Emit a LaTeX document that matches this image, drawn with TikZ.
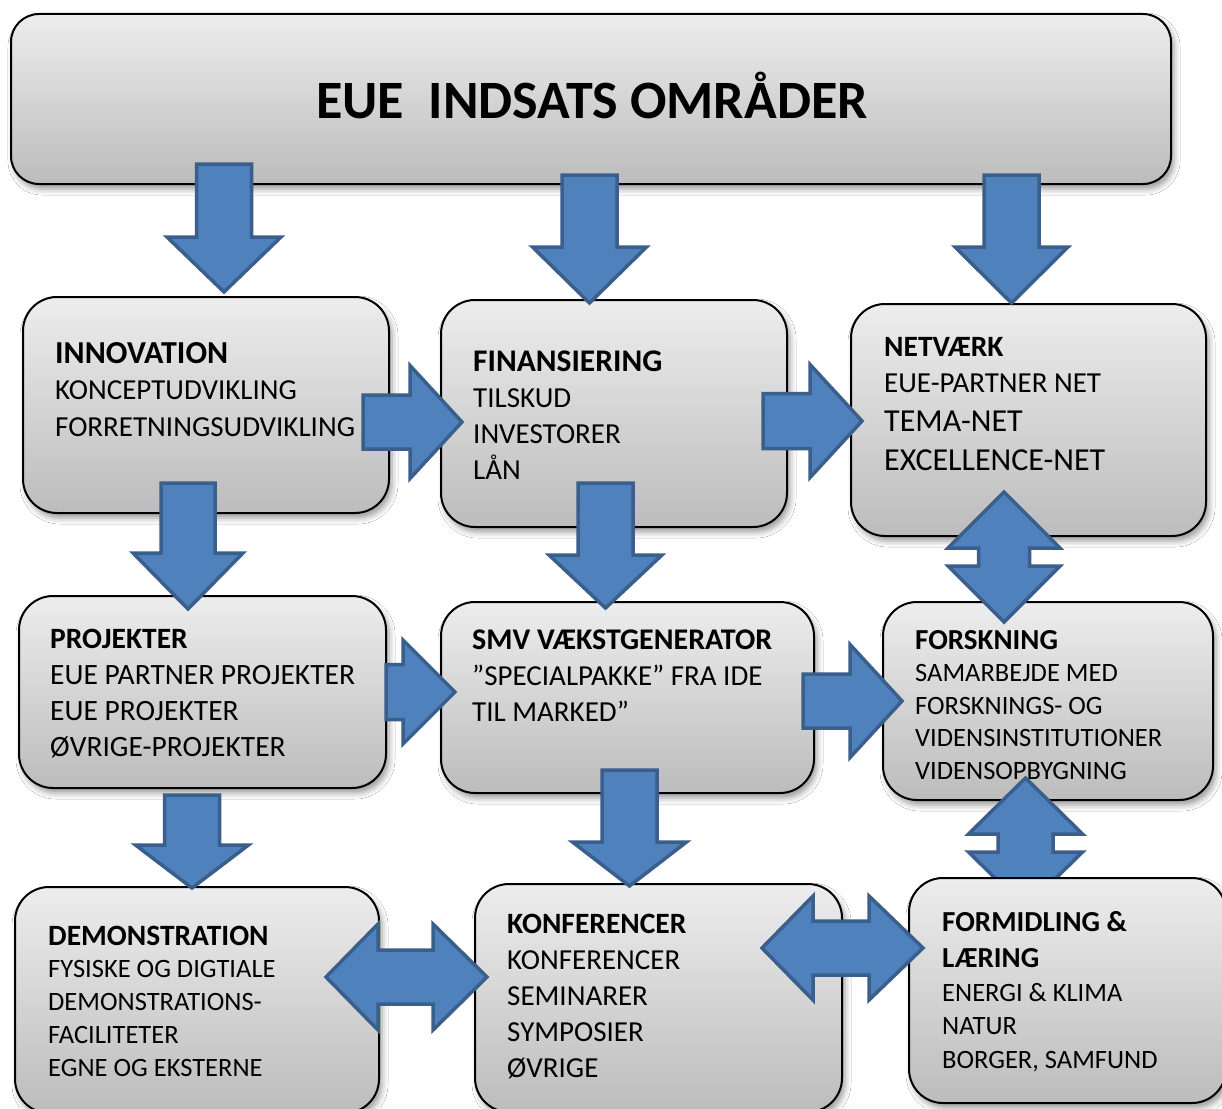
\documentclass[tikz,border=0pt]{standalone}
\usepackage{fontspec}
\setmainfont{Carlito}
\usetikzlibrary{shadows.blur}
\definecolor{boxtop}{HTML}{EDEDED}
\definecolor{boxbot}{HTML}{BCBCBC}
\definecolor{arrfill}{HTML}{4F81BD}
\definecolor{arrline}{HTML}{3A5F8B}
\newcommand\ebx[6][34pt]{\node[ebox=#1, minimum width={(#5-#3)*1pt}, minimum height={(#6-#4)*1pt}] (#2) at (#3,#4) {};}
\newcommand\blkdown[6]{\filldraw[barrow] (#1-#2,#4) -- (#1+#2,#4) -- (#1+#2,#5) -- (#1+#3,#5) -- (#1,#6) -- (#1-#3,#5) -- (#1-#2,#5) -- cycle;}
\newcommand\blkright[6]{\filldraw[barrow] (#4,#1-#2) -- (#5,#1-#2) -- (#5,#1-#3) -- (#6,#1) -- (#5,#1+#3) -- (#5,#1+#2) -- (#4,#1+#2) -- cycle;}
\newcommand\blkvv[7]{\filldraw[barrow] (#1,#4) -- (#1+#3,#5) -- (#1+#2,#5) -- (#1+#2,#6) -- (#1+#3,#6) -- (#1,#7) -- (#1-#3,#6) -- (#1-#2,#6) -- (#1-#2,#5) -- (#1-#3,#5) -- cycle;}
\newcommand\blkhh[7]{\filldraw[barrow] (#4,#1) -- (#5,#1-#3) -- (#5,#1-#2) -- (#6,#1-#2) -- (#6,#1-#3) -- (#7,#1) -- (#6,#1+#3) -- (#6,#1+#2) -- (#5,#1+#2) -- (#5,#1+#3) -- cycle;}
\newcommand\hdr[2]{{\fontsize{#1}{36}\selectfont\bfseries #2}}
\begin{document}
\begin{tikzpicture}[x=1pt,y=-1pt,
  ebox/.style={draw=black, line width=2pt, rounded corners=#1, top color=boxtop, bottom color=boxbot,
    anchor=north west, inner sep=0pt, outer sep=0pt,
    blur shadow={shadow xshift=3pt, shadow yshift=-5pt, shadow blur radius=6pt, shadow opacity=40}},
  barrow/.style={fill=arrfill, draw=arrline, line width=3.5pt, line join=miter},
  txt/.style={anchor=base west, align=left, inner sep=0pt, font=\fontsize{29}{36}\selectfont}]
\useasboundingbox (0,0) rectangle (1222,1108);
\clip (0,0) rectangle (1222,1108);
\fill[white] (0,0) rectangle (1222,1108);
% boxes
\ebx[28pt]{top}{11}{14}{1171}{184}
\ebx{inno}{23}{297}{389}{513}
\ebx{fin}{441}{300}{787}{527}
\ebx{net}{851}{304}{1206}{536}
\ebx{proj}{19}{596}{386}{788}
\ebx{smv}{441}{602}{814}{793}
\ebx{forsk}{883}{602}{1213}{800}
\ebx{demo}{15}{887}{379}{1113}
\ebx{konf}{475}{884}{842}{1112}
% texts (anchored at the baseline of the last line)
\node[anchor=base, inner sep=0pt, font=\fontsize{54}{60}\selectfont\bfseries] (ttop) at (592,118) {EUE\ \ INDSATS OMRÅDER};
\node[txt, font=\fontsize{29}{36.5}\selectfont] (tinno) at (55,436) {\hdr{32}{INNOVATION}\\KONCEPTUDVIKLING\\FORRETNINGSUDVIKLING};
\node[txt] (tfin) at (473,479) {\hdr{31.5}{FINANSIERING}\\TILSKUD\\INVESTORER\\LÅN};
\node[txt] (tnet) at (884,470) {\hdr{29.5}{NETVÆRK}\\EUE-PARTNER NET\\[3pt]{\fontsize{32}{39}\selectfont TEMA-NET}\\[3pt]{\fontsize{32}{39}\selectfont EXCELLENCE-NET}};
\node[txt, font=\fontsize{29.5}{36}\selectfont] (tproj) at (50,756) {\hdr{29.5}{PROJEKTER}\\EUE PARTNER PROJEKTER\\EUE PROJEKTER\\ØVRIGE-PROJEKTER};
\node[txt] (tsmv) at (472,721) {\hdr{30}{SMV VÆKSTGENERATOR}\\”SPECIALPAKKE” FRA IDE\\TIL MARKED”};
\node[txt, font=\fontsize{26.5}{32.5}\selectfont] (tforsk) at (915,779) {\hdr{29}{FORSKNING}\\SAMARBEJDE MED\\FORSKNINGS- OG\\VIDENSINSTITUTIONER\\VIDENSOPBYGNING};
\node[txt, font=\fontsize{26.5}{32.75}\selectfont] (tdemo) at (48,1076) {\hdr{29.5}{DEMONSTRATION}\\FYSISKE OG DIGTIALE\\DEMONSTRATIONS-\\FACILITETER\\EGNE OG EKSTERNE};
\node[txt] (tkonf) at (507,1077) {\hdr{29.5}{KONFERENCER}\\KONFERENCER\\SEMINARER\\SYMPOSIER\\ØVRIGE};
% arrow that lies behind the FORMIDLING box
\blkvv{1025.5}{27.5}{57}{778}{834}{852}{908}
\ebx{form}{909}{878}{1226}{1103}
\node[txt, font=\fontsize{26.5}{33.5}\selectfont] (tform) at (942,1068) {\hdr{29}{FORMIDLING \&}\\[2.5pt]\hdr{29}{LÆRING}\\ENERGI \& KLIMA\\NATUR\\BORGER, SAMFUND};
% arrows
\blkdown{224}{27.5}{57}{164}{237}{292}
\blkdown{589.5}{27.5}{57}{175}{247}{303}
\blkdown{1011.5}{27.5}{56.5}{175}{247}{303}
\blkdown{188}{27}{55}{483}{553}{609}
\blkdown{605.5}{27.5}{56.5}{483}{555}{608}
\blkdown{629.5}{27.5}{57}{770}{842}{886}
\blkdown{192}{27.5}{56.5}{795}{845}{888}
\blkright{422}{27}{56.5}{363}{410}{462}
\blkright{421}{27.5}{56.5}{763}{810}{862}
\blkright{692}{27.5}{52}{386}{403}{455}
\blkright{701}{27}{56.5}{803}{850}{902}
\blkvv{1004}{25.5}{56}{492}{548}{566}{622}
\blkhh{977}{27}{53}{326}{378}{433}{487}
\blkhh{948}{27}{52}{762}{813}{869}{923}
\end{tikzpicture}
\end{document}
